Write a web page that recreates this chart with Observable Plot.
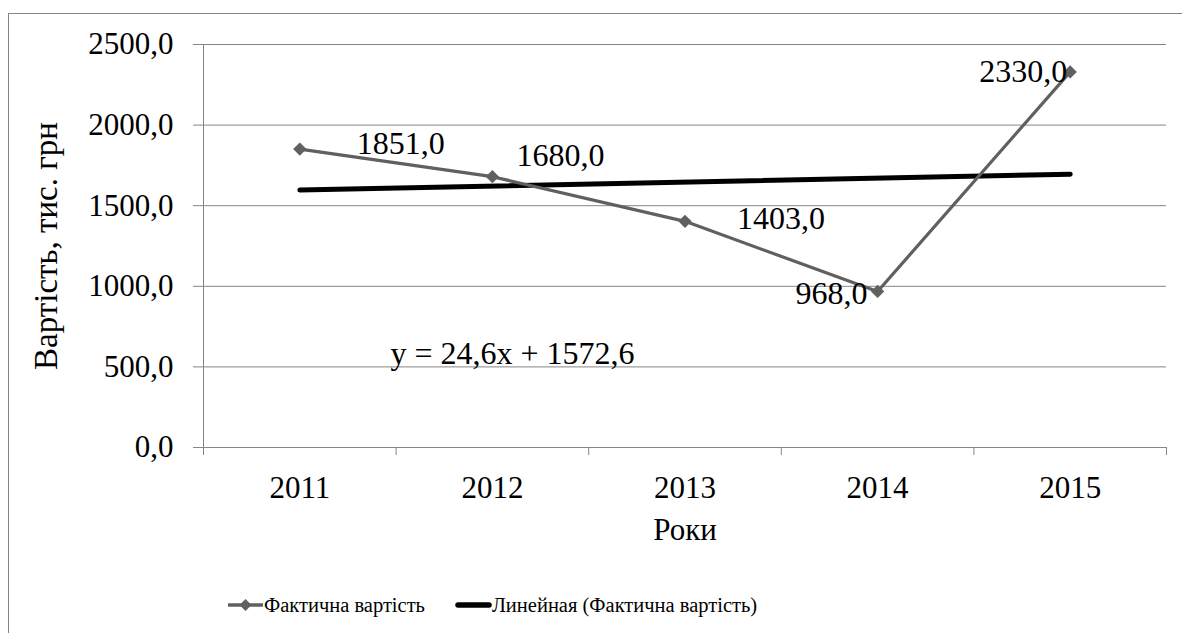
<!DOCTYPE html>
<html><head><meta charset="utf-8">
<script src="https://cdn.jsdelivr.net/npm/d3@7"></script>
<script src="https://cdn.jsdelivr.net/npm/@observablehq/plot@0.6"></script>
<style>
body{margin:0;background:#fff;font-family:"Liberation Serif","Times New Roman",Times,"DejaVu Serif","Noto Serif",serif;}
#wrap{position:relative;width:1182px;height:633px;overflow:hidden;}
#border{position:absolute;left:8px;top:13px;width:1300px;height:800px;border-left:1px solid #868686;border-top:1px solid #868686;}
#chart{position:absolute;left:0;top:0;}
#legend{position:absolute;top:590px;left:227px;height:30px;display:flex;align-items:center;font-size:20.5px;color:#000;white-space:nowrap;}
#legend .item{display:flex;align-items:center;}
#legend svg{display:block;}
</style>
</head><body>
<div id="wrap">
<div id="border"></div>
<div id="chart"></div>
<div id="legend">
  <div class="item"><svg width="37" height="20"><line x1="1" y1="10" x2="36" y2="10" stroke="#606060" stroke-width="3.5"/><path d="M18.5,4 L24.5,10 L18.5,16 L12.5,10 Z" fill="#606060"/></svg><span>Фактична вартість</span></div>
  <div class="item" style="margin-left:30px"><svg width="37" height="20"><line x1="3" y1="10" x2="34" y2="10" stroke="#000" stroke-width="5.5" stroke-linecap="round"/></svg><span>Линейная (Фактична вартість)</span></div>
</div>
</div>
<script>
const years = ["2011", "2012", "2013", "2014", "2015"];
const values = [1851, 1680, 1403, 968, 2330];
const yTicks = [0, 500, 1000, 1500, 2000, 2500];
const equation = "y = 24,6x + 1572,6";
const xTitle = "Роки";
const yTitle = "Вартість, тис. грн";

const data = years.map((yr, i) => ({idx: i + 1, year: yr, value: values[i]}));
const fmt = d => d.toFixed(1).replace(".", ",");
const boundaries = d3.range(0.5, years.length + 1, 1);
const labelOffsets = [[101, -5], [68, -21], [96, -3], [-46, 2], [-47, 0]];
const FS = 31;
const LFS = 32;
const FONT = "'Liberation Serif','Times New Roman',Times,'DejaVu Serif','Noto Serif',serif";

const plot = Plot.plot({
  width: 1182, height: 633,
  marginLeft: 203, marginRight: 16, marginTop: 44, marginBottom: 186,
  style: {fontFamily: FONT, fontSize: FS + "px", color: "#000", background: "transparent"},
  x: {type: "linear", domain: [0.5, years.length + 0.5], label: null},
  y: {domain: [0, 2500], label: null},
  marks: [
    Plot.gridY(yTicks, {stroke: "#868686", strokeOpacity: 1}),
    Plot.axisY({ticks: yTicks, tickSize: 10, tickPadding: 20, tickFormat: fmt, stroke: "#868686", fontSize: FS, label: null}),
    Plot.ruleX([0.5], {stroke: "#868686"}),
    Plot.ruleY([0], {stroke: "#868686"}),
    Plot.axisX({ticks: boundaries, tickSize: 8, tickFormat: () => "", stroke: "#868686", label: null}),
    Plot.axisX({ticks: data.map(d => d.idx), tickSize: 0, tickPadding: 28, tickFormat: i => years[i - 1], fontSize: FS, label: null}),
    Plot.linearRegressionY(data, {x: "idx", y: "value", stroke: "#000", strokeWidth: 5, ci: 0, strokeLinecap: "round"}),
    Plot.line(data, {x: "idx", y: "value", stroke: "#606060", strokeWidth: 3.2}),
    Plot.dot(data, {x: "idx", y: "value", symbol: "diamond2", r: 6, fill: "#606060", stroke: null}),
    ...data.map((d, i) => Plot.text([d], {x: "idx", y: "value", text: e => fmt(e.value), dx: labelOffsets[i][0], dy: labelOffsets[i][1], fontSize: LFS, fill: "#000"})),
    Plot.text([equation], {frameAnchor: "top-left", dx: 512 - 203, dy: 341 - 44, textAnchor: "middle", fontSize: LFS, fill: "#000"}),
    Plot.text([xTitle], {frameAnchor: "bottom", dy: 530 - 447, lineAnchor: "middle", fontSize: FS, fill: "#000"}),
    Plot.text([yTitle], {frameAnchor: "left", dx: -157, rotate: -90, textAnchor: "middle", lineAnchor: "middle", fontSize: 33, fill: "#000"})
  ]
});
document.getElementById("chart").appendChild(plot);
</script>
</body></html>
